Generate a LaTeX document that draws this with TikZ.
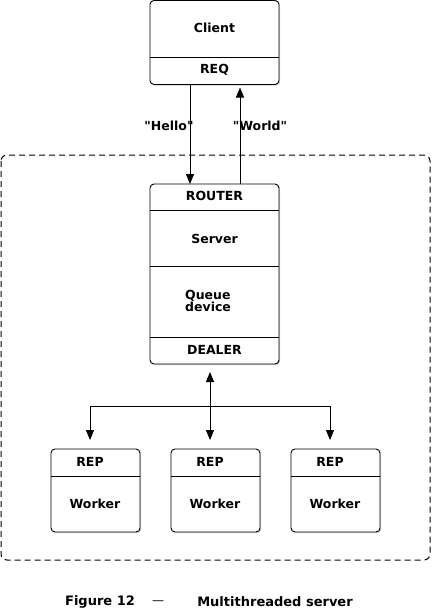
\documentclass[tikz,border=0pt]{standalone}
\usepackage{fontspec}
\newfontfamily\lblfont{DejaVu Sans}
\usetikzlibrary{arrows.meta,shadows}
\begin{document}
\begin{tikzpicture}[x=1pt,y=-1pt,
  box/.style={draw,line width=0.9pt,rounded corners=4pt,inner sep=0pt,outer sep=0pt,fill=white,
    drop shadow={shadow xshift=1.2pt,shadow yshift=-1.2pt,opacity=0.35}},
  lbl/.style={font=\lblfont\bfseries\fontsize{12.5}{13}\selectfont,inner sep=0pt},
  captxt/.style={font=\lblfont\bfseries\fontsize{13}{14}\selectfont,inner sep=0pt},
  sepline/.style={line width=0.7pt},
  arr/.style={line width=0.9pt,-{Triangle[length=10pt,width=8pt]}},
  darr/.style={line width=0.9pt,{Triangle[length=10pt,width=8pt]}-{Triangle[length=10pt,width=8pt]}}]
\useasboundingbox (0,0) rectangle (431,610);
\fill[white] (0,0) rectangle (431,610);

% dashed frame
\draw[line width=1pt,dash pattern=on 6pt off 4pt,rounded corners=6pt] (1,155) rectangle (430,560);

% client
\node[box,minimum width=129pt,minimum height=84pt] (client) at (214.5,42.5) {};
\draw[sepline] (client.west |- 0,57) -- (client.east |- 0,57);
\node[lbl] (clientT) at (214.5,28) {Client};
\node[lbl] (req) at (214.5,70) {REQ};

% server
\node[box,minimum width=129pt,minimum height=180pt] (server) at (214.5,274) {};
\draw[sepline] (server.west |- 0,210) -- (server.east |- 0,210);
\draw[sepline] (server.west |- 0,266) -- (server.east |- 0,266);
\draw[sepline] (server.west |- 0,337) -- (server.east |- 0,337);
\node[lbl] (router) at (214.5,196) {ROUTER};
\node[lbl] (serverT) at (214.5,239) {Server};
\node[lbl,align=left,anchor=west] (queue) at (185,301) {Queue\\[-1pt]device};
\node[lbl] (dealer) at (214.5,350) {DEALER};

% client <-> server arrows
\draw[arr] ([xshift=-24.5pt]client.south) -- ([xshift=-24.5pt]server.north);
\draw[arr,shorten >=3pt] ([xshift=25.5pt]server.north) -- ([xshift=25.5pt]client.south);
\node[lbl] (hello) at (169,126) {"Hello"};
\node[lbl] (world) at (260,126) {"World"};

% workers
\foreach \i/\cx in {1/95.5,2/215.5,3/335.5}{
  \node[box,minimum width=89pt,minimum height=83pt] (w\i) at (\cx,490.5) {};
  \draw[sepline] (w\i.west |- 0,476) -- (w\i.east |- 0,476);
  \node[lbl] (rep\i) at (\cx-5.5,462) {REP};
  \node[lbl] (wk\i) at (\cx-0.5,504) {Worker};
}

% fan-out
\coordinate (hub) at (210,406);
\draw[darr,shorten <=8pt,shorten >=9pt] ([xshift=-4.5pt]server.south) -- ([xshift=-5.5pt]w2.north);
\draw[arr,shorten >=9pt] (hub) -| ([xshift=-5.5pt]w1.north);
\draw[arr,shorten >=9pt] (hub) -| ([xshift=-5.5pt]w3.north);

% caption
\node[captxt] (fig) at (100,602) {Figure 12};
\node[font=\lblfont\fontsize{12}{13}\selectfont,inner sep=0pt] (dash) at (158,603) {—};
\node[captxt] (title) at (275,602) {Multithreaded server};
\end{tikzpicture}
\end{document}
